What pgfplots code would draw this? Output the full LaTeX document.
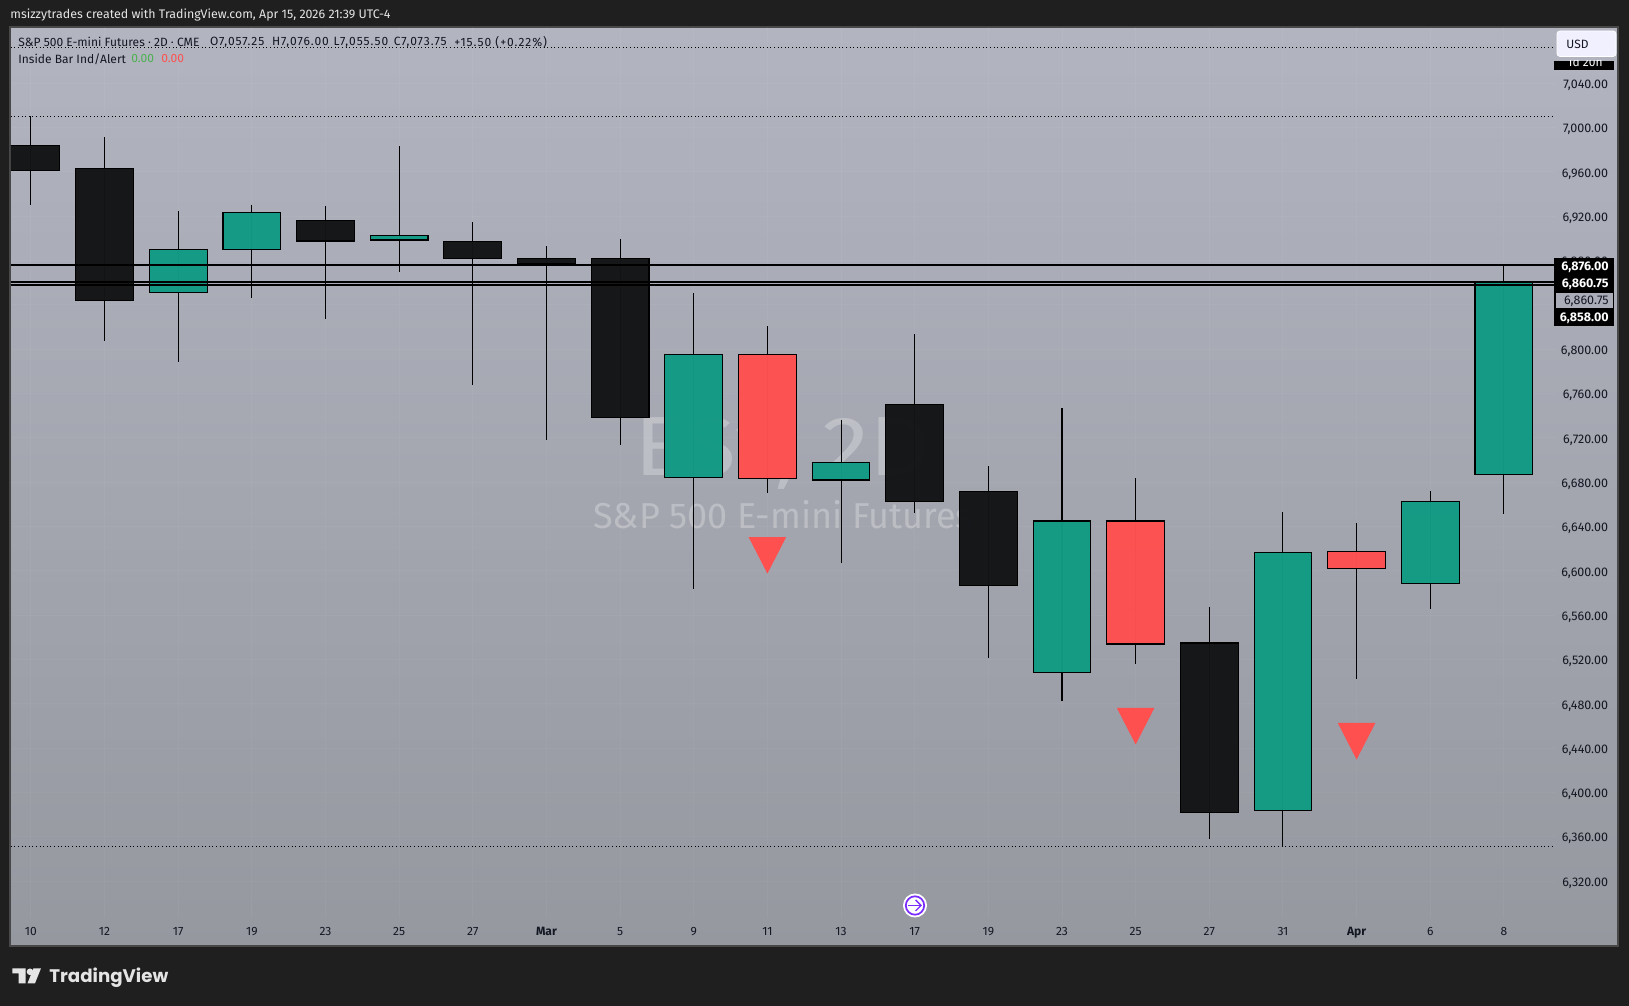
\documentclass[border=0pt]{standalone}
\usepackage{fontspec}
\usepackage{graphicx}
\setmainfont{Fira Sans}
\newfontfamily\logofont{Poppins}
\newfontfamily\numfont[LetterSpace=8]{Fira Sans}
\usepackage{pgfplots}
\pgfplotsset{compat=1.18}
\definecolor{pagebg}{HTML}{1F1F1F}
\definecolor{cgreen}{HTML}{129A84}
\definecolor{cred}{HTML}{FF5050}
\definecolor{cblack}{HTML}{131416}
\definecolor{txt}{HTML}{131722}
\definecolor{bgtop}{HTML}{B2B5C0}
\definecolor{bgbot}{HTML}{95989F}
\definecolor{scalebox}{HTML}{ABAEB9}
\definecolor{frame}{HTML}{484848}
\definecolor{logoc}{HTML}{E4E4E4}
\definecolor{purp}{HTML}{7A2BFF}
\definecolor{lgreen}{HTML}{4CAF50}
\newcommand\px[1]{\fontsize{#1}{#1}\selectfont}
\pgfdeclareplotmark{downtri}{%
  \pgfpathmoveto{\pgfqpoint{-9.4pt}{9.15pt}}%
  \pgfpathlineto{\pgfqpoint{9.4pt}{9.15pt}}%
  \pgfpathlineto{\pgfqpoint{0pt}{-9.15pt}}%
  \pgfpathclose\pgfusepathqfill}
% draw position, high, body top, body bottom, low, colour
\newcommand\candle[6]{%
  \pgfmathsetmacro\xl{#1-0.392}\pgfmathsetmacro\xr{#1+0.392}%
  \addplot[black, line width=0.52pt] coordinates {(#1,#2)(#1,#5)};
  \addplot[fill=#6, fill opacity=0.975, draw=black, line width=0.55pt] coordinates {(\xl,#3)(\xr,#3)(\xr,#4)(\xl,#4)} -- cycle;}
\begin{document}
\begin{tikzpicture}[x=0.5pt,y=0.5pt]
\useasboundingbox (0,0) rectangle (1629,1006);
\fill[pagebg] (0,0) rectangle (1629,1006);
\shade[top color=bgtop, bottom color=bgbot] (10,60) rectangle (1618,979);
\draw[frame, line width=0.7pt] (10,60) rectangle (1618,979);
% watermark
\node[white, opacity=0.27, font=\px{42}] at (782.5,553) {\scalebox{1.13}[1]{ES1, 2D}};
\node[white, opacity=0.27, font=\px{18}] at (783,491) {S\&P 500 E-mini Futures};
\begin{axis}[
  at={(5.4pt,44pt)}, anchor=south west, scale only axis,
  width=772.5pt, height=445.5pt,
  xmin=-0.273, xmax=20.705, ymin=6286.7, ymax=7090.8,
  axis line style={draw=none}, major tick length=0pt,
  xtick={0,...,20},
  xticklabels={10,12,17,19,23,25,27,\textbf{Mar},5,9,11,13,17,19,23,25,27,31,\textbf{Apr},6,8},
  ytick={6320,6360,...,7040},
  yticklabel pos=right,
  yticklabel style={anchor=east, xshift=26.3pt, yshift=-1pt, inner sep=0pt, font=\px{6.25}, text=txt,
    /pgf/number format/.cd, fixed, fixed zerofill, precision=2, 1000 sep={,}, assume math mode=true},
  xticklabel style={anchor=center, inner sep=0pt, text height=4.4pt, text depth=0pt, yshift=-6.6pt, font=\px{6}, text=txt},
  grid=major, major grid style={white, opacity=0.04, line width=0.45pt},
]
\addplot[black, line width=0.45pt, dash pattern=on 0.5pt off 1.3pt] coordinates {(-0.273,7072.5)(20.68,7072.5)};
\addplot[black, line width=0.45pt, dash pattern=on 0.5pt off 1.3pt] coordinates {(-0.273,7010.2)(20.68,7010.2)};
\addplot[black, line width=0.45pt, dash pattern=on 0.5pt off 1.3pt] coordinates {(-0.273,6351.5)(20.68,6351.5)};
\candle{0}{7010.2}{6983.9}{6961.4}{6930.5}{cblack}
\candle{1}{6991.4}{6963.3}{6844.2}{6807.7}{cblack}
\candle{2}{6924.9}{6890.2}{6850.8}{6788.9}{cgreen}
\candle{3}{6930.5}{6923.3}{6890.2}{6846.1}{cgreen}
\candle{4}{6929.5}{6916.4}{6897.7}{6827.3}{cblack}
\candle{5}{6983.0}{6902.4}{6898.6}{6869.5}{cgreen}
\candle{6}{6914.5}{6897.2}{6882.2}{6767.3}{cblack}
\candle{7}{6893.0}{6882.2}{6877.0}{6717.7}{cblack}
\candle{8}{6899.5}{6882.2}{6738.3}{6713.9}{cblack}
\candle{9}{6850.8}{6795.5}{6683.9}{6583.6}{cgreen}
\candle{10}{6820.8}{6795.5}{6683.0}{6669.8}{cred}
\candle{11}{6736.4}{6698.0}{6682.0}{6607.0}{cgreen}
\candle{12}{6813.3}{6750.5}{6662.3}{6652.0}{cblack}
\candle{13}{6694.2}{6671.7}{6586.4}{6521.7}{cblack}
\candle{14}{6746.7}{6645.0}{6508.5}{6482.2}{cgreen}
\candle{15}{6683.9}{6645.0}{6534.0}{6516.0}{cred}
\candle{16}{6567.6}{6534.9}{6382.1}{6357.6}{cblack}
\candle{17}{6653.0}{6616.4}{6383.9}{6351.1}{cgreen}
\candle{18}{6643.6}{6617.3}{6602.3}{6502.1}{cred}
\candle{19}{6671.7}{6662.3}{6588.2}{6565.7}{cgreen}
\candle{20}{6876.0}{6860.75}{6686.7}{6651.1}{cgreen}
\addplot[only marks, mark=downtri, draw=none, fill=cred, mark options={draw=none, fill=cred}]
  coordinates {(10,6614)(15,6459.8)(18,6446.2)};
\addplot[black, line width=0.9pt] coordinates {(-0.273,6876)(20.68,6876)};
\addplot[black, line width=0.8pt] coordinates {(-0.273,6860.75)(20.68,6860.75)};
\addplot[black, line width=0.8pt] coordinates {(-0.273,6858)(20.68,6858)};
\end{axis}
% header and legend
\node[anchor=west, inner sep=0pt, white!90!black, font=\px{6.2}] at (10,991) {msizzytrades created with TradingView.com, Apr 15, 2026 21:39 UTC-4};
\node[anchor=west, inner sep=0pt, text=txt, font=\px{6}] at (18,964) {S\&P 500 E-mini Futures · 2D · CME};
\node[anchor=west, inner sep=0pt, text=txt, font=\numfont\px{6}] at (209.7,964) {O7,057.25};
\node[anchor=west, inner sep=0pt, text=txt, font=\numfont\px{6}] at (271.7,964) {H7,076.00};
\node[anchor=west, inner sep=0pt, text=txt, font=\numfont\px{6}] at (333.3,964) {L7,055.50};
\node[anchor=west, inner sep=0pt, text=txt, font=\numfont\px{6}] at (393.4,964) {C7,073.75};
\node[anchor=west, inner sep=0pt, text=txt, font=\numfont\px{6}] at (454,964) {+15.50 (+0.22\%)};
\node[anchor=west, inner sep=0pt, text=txt, font=\px{6}] at (18,947) {Inside Bar Ind/Alert};
\node[anchor=west, inner sep=0pt, text=lgreen, font=\px{6}] at (131,947) {0.00};
\node[anchor=west, inner sep=0pt, text=cred, font=\px{6}] at (161,947) {0.00};
% price scale badges
\fill[black] (1554,936) rectangle (1614,945);
\begin{scope}
\clip (1554,936) rectangle (1614,945);
\node[white, font=\px{6}] at (1585,943.5) {1d 20h};
\end{scope}
\filldraw[fill=white!94!blue, rounded corners=1.5pt, draw=white, line width=0.4pt] (1557,949.5) rectangle (1616,975);
\node[anchor=west, inner sep=0pt, text=txt, font=\px{6}] at (1566,962) {USD};
\fill[black] (1554,680) rectangle (1614,748);
\filldraw[fill=scalebox, draw=black, line width=0.45pt] (1555,697.5) rectangle (1613.5,713.5);
\node[anchor=east, inner sep=0pt, white, font=\bfseries\px{6.25}] at (1609,739) {6,876.00};
\node[anchor=east, inner sep=0pt, white, font=\bfseries\px{6.25}] at (1609,722) {6,860.75};
\node[anchor=east, inner sep=0pt, text=txt, font=\px{6.25}] at (1609,705) {6,860.75};
\node[anchor=east, inner sep=0pt, white, font=\bfseries\px{6.25}] at (1609,688) {6,858.00};
% event icon
\fill[white] (915,100.5) circle (6pt);
\draw[purp, line width=0.85pt] (915,100.5) circle (4.6pt);
\draw[purp, line width=0.7pt] (908,100.5) -- (921,100.5);
\draw[purp, line width=0.7pt] (915.5,106) -- (921,100.5) -- (915.5,95);
% logo
\fill[logoc] (12.3,37.7) -- (25.7,37.7) -- (25.7,22.7) -- (18.5,22.7) -- (18.5,32.5) -- (12.3,32.5) -- cycle;
\fill[logoc] (30,34.2) circle (1.65pt);
\fill[logoc] (33.5,37.7) -- (41,37.7) -- (35,22.7) -- (27.5,22.7) -- cycle;
\node[anchor=west, inner sep=0pt, logoc, font=\logofont\bfseries\px{9.1}] at (49,28.5) {TradingView};
\end{tikzpicture}
\end{document}
